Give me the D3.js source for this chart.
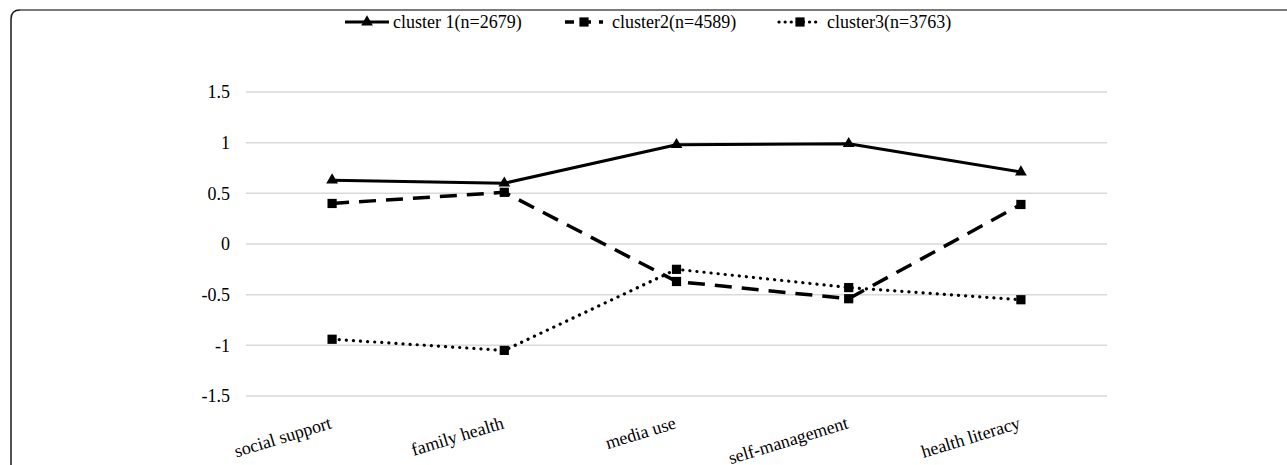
<!DOCTYPE html>
<html><head><meta charset="utf-8">
<script src="https://cdn.jsdelivr.net/npm/d3@7"></script>
<style>
html,body{margin:0;padding:0;background:#fff;}
svg{display:block;}
text{font-family:"Liberation Serif","Times New Roman",serif;fill:#000;}
</style></head>
<body>
<svg id="chart" width="1287" height="465"></svg>
<script>
const categories = ["social support","family health","media use","self-management","health literacy"];
const cluster1 = [0.63, 0.60, 0.98, 0.99, 0.71];
const cluster2 = [0.40, 0.51, -0.37, -0.54, 0.39];
const cluster3 = [-0.94, -1.05, -0.25, -0.43, -0.55];
const seriesNames = ["cluster 1(n=2679)", "cluster2(n=4589)", "cluster3(n=3763)"];
const yTicks = [-1.5, -1, -0.5, 0, 0.5, 1, 1.5];
const yTickLabels = ["-1.5", "-1", "-0.5", "0", "0.5", "1", "1.5"];

const svg = d3.select("#chart");
const W = 1287, H = 465;

// frame
svg.append("path")
  .attr("d", `M11,${H} L11,19 Q11,10 20,10 L${W},10`)
  .attr("fill","none").attr("stroke","#1a1a1a").attr("stroke-width",1.5);
svg.append("line").attr("x1",20).attr("x2",W).attr("y1",10).attr("y2",10)
  .attr("stroke","#7a7a7a").attr("stroke-width",2);

const plotL = 246, plotR = 1107, plotT = 92, plotB = 396;
const x = d3.scalePoint().domain(categories).range([plotL, plotR]).padding(0.5);
const y = d3.scaleLinear().domain([-1.5, 1.5]).range([plotB, plotT]);

// gridlines
svg.append("g").selectAll("line").data(yTicks).join("line")
  .attr("x1", plotL).attr("x2", plotR)
  .attr("y1", d => y(d)).attr("y2", d => y(d))
  .attr("stroke", "#d9d9d9").attr("stroke-width", 1.5);

// y axis
const yAxis = d3.axisLeft(y).tickValues(yTicks).tickSize(0).tickPadding(16)
  .tickFormat((d,i) => yTickLabels[i]);
const gy = svg.append("g").attr("transform", `translate(${plotL},0)`).call(yAxis);
gy.select(".domain").remove();
gy.selectAll("text").attr("font-size", 18).attr("font-family", '"Liberation Serif",serif').attr("fill","#000");

// x axis labels (rotated)
const xAxis = d3.axisBottom(x).tickSize(0).tickPadding(0);
const gx = svg.append("g").attr("transform", `translate(0,${plotB})`).call(xAxis);
gx.select(".domain").remove();
gx.selectAll("text")
  .attr("font-size", 18).attr("font-family", '"Liberation Serif",serif').attr("fill","#000")
  .attr("text-anchor", "end")
  .attr("dy", 0).attr("y", 0)
  .attr("transform", "translate(0,32) rotate(-17)");

const series = [
  {name: seriesNames[0], values: cluster1, dash: null, cap: "butt", width: 3, marker: d3.symbolTriangle, msize: 60},
  {name: seriesNames[1], values: cluster2, dash: "17,10", cap: "butt", width: 3.5, marker: d3.symbolSquare, msize: 85},
  {name: seriesNames[2], values: cluster3, dash: "0.1,7", cap: "round", width: 3.2, marker: d3.symbolSquare, msize: 85}
];

const line = d3.line().x((d,i) => x(categories[i])).y(d => y(d));

series.forEach(s => {
  svg.append("path").datum(s.values)
    .attr("d", line).attr("fill","none").attr("stroke","#000")
    .attr("stroke-width", s.width).attr("stroke-linecap", s.cap)
    .attr("stroke-linejoin","round")
    .attr("stroke-dasharray", s.dash);
});
series.forEach(s => {
  svg.append("g").selectAll("path").data(s.values).join("path")
    .attr("d", d3.symbol().type(s.marker).size(s.msize))
    .attr("transform", (d,i) => `translate(${x(categories[i])},${y(d)})`)
    .attr("fill","#000");
});

// legend
const legendY = 22;
const legendItems = [
  {x: 345, w: 44, textX: 393, dash: null},
  {x: 565, w: 38, textX: 612, dash: "9,8"},
  {x: 779, w: 42, textX: 827, dash: "0.1,6"}
];
series.forEach((s, i) => {
  const g = svg.append("g");
  const it = legendItems[i];
  g.append("line").attr("x1", it.x).attr("x2", it.x + it.w).attr("y1", legendY).attr("y2", legendY)
    .attr("stroke","#000").attr("stroke-width", s.width)
    .attr("stroke-linecap", s.cap).attr("stroke-dasharray", it.dash);
  g.append("path").attr("d", d3.symbol().type(s.marker).size(s.msize))
    .attr("transform", `translate(${it.x + it.w/2},${legendY})`).attr("fill","#000");
  g.append("text").attr("x", it.textX).attr("y", legendY).attr("dy","0.35em")
    .attr("font-size", 18).text(s.name);
});
</script>
</body></html>
